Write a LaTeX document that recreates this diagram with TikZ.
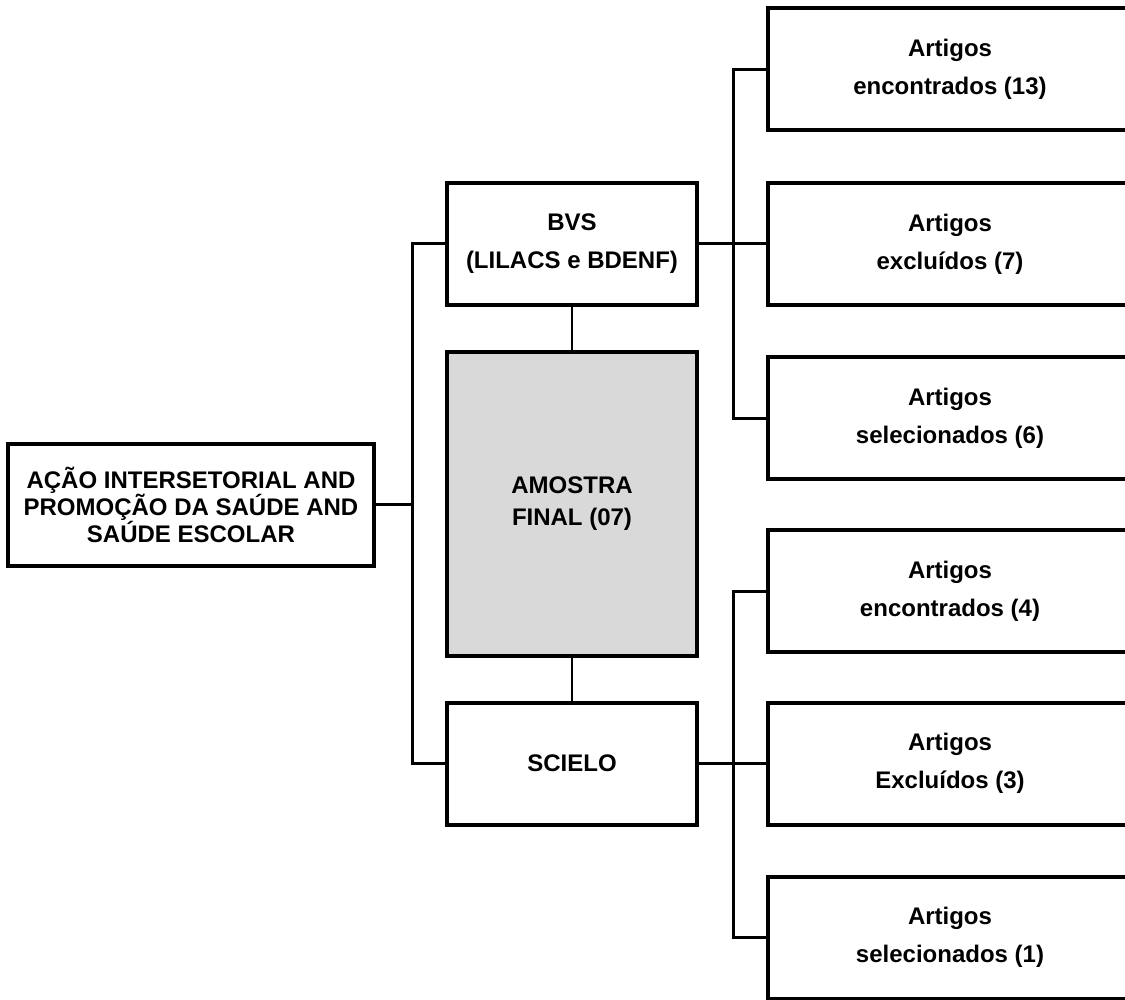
\documentclass[tikz,border=0pt]{standalone}
\usepackage{fontspec}
\setmainfont{Liberation Sans}
\usepackage{tikz}

\tikzset{CaixaStyle/.style = {draw=black,line width=2pt,fill=white,align=center,inner sep=0pt,
		minimum width=182pt,minimum height=61pt,font=\fontsize{12}{19}\selectfont\bfseries}}
\tikzset{LigaStyle/.style = {draw=black,line width=1.5pt}}

\begin{document}
\begin{tikzpicture}[x=0.5pt,y=-0.5pt]
		\useasboundingbox (0,0) rectangle (1125,1000);
		\clip (0,0) rectangle (1125,1000);
		%\draw[help lines] (0,0) grid[step=100] (1125,1000);
		\node[CaixaStyle,minimum width=183pt,font=\fontsize{12}{13.5}\selectfont\bfseries] (Busca) at (191,504.5) {AÇÃO INTERSETORIAL AND\\PROMOÇÃO DA SAÚDE AND\\SAÚDE ESCOLAR};
		{
			\tikzset{CaixaStyle/.append style = {minimum width=125pt}}
			\node[CaixaStyle] (BVS) at (572,244) {BVS\\(LILACS e BDENF)};
			\node[CaixaStyle,minimum height=152pt,fill=black!15,font=\fontsize{12}{16}\selectfont\bfseries] (Amostra) at (572,504) {AMOSTRA\\FINAL (07)};
			\node[CaixaStyle] (SciELO) at (572,763.5) {SCIELO};
		}
		\node[CaixaStyle] (B1) at (950,69.5) {Artigos\\encontrados (13)};
		\node[CaixaStyle] (B2) at (950,244) {Artigos\\excluídos (7)};
		\node[CaixaStyle] (B3) at (950,418) {Artigos\\selecionados (6)};
		\node[CaixaStyle] (S1) at (950,591) {Artigos\\encontrados (4)};
		\node[CaixaStyle] (S2) at (950,763.5) {Artigos\\Excluídos (3)};
		\node[CaixaStyle] (S3) at (950,937.5) {Artigos\\selecionados (1)};
		\draw[LigaStyle] (Busca.east) -- ++(36,0) |- (BVS.west);
		\draw[LigaStyle] (Busca.east) -- ++(36,0) |- (SciELO.west);
		{
			\tikzset{LigaStyle/.append style = {line width=1pt}}
			\draw[LigaStyle] (BVS.south) -- (Amostra.north);
			\draw[LigaStyle] (Amostra.south) -- (SciELO.north);
		}
		\draw[LigaStyle] (BVS.east) -- (B2.west);
		\draw[LigaStyle] (B1.west) -- ++(-33,0) |- (B3.west);
		\draw[LigaStyle] (SciELO.east) -- (S2.west);
		\draw[LigaStyle] (S1.west) -- ++(-33,0) |- (S3.west);
	\end{tikzpicture}
\end{document}
